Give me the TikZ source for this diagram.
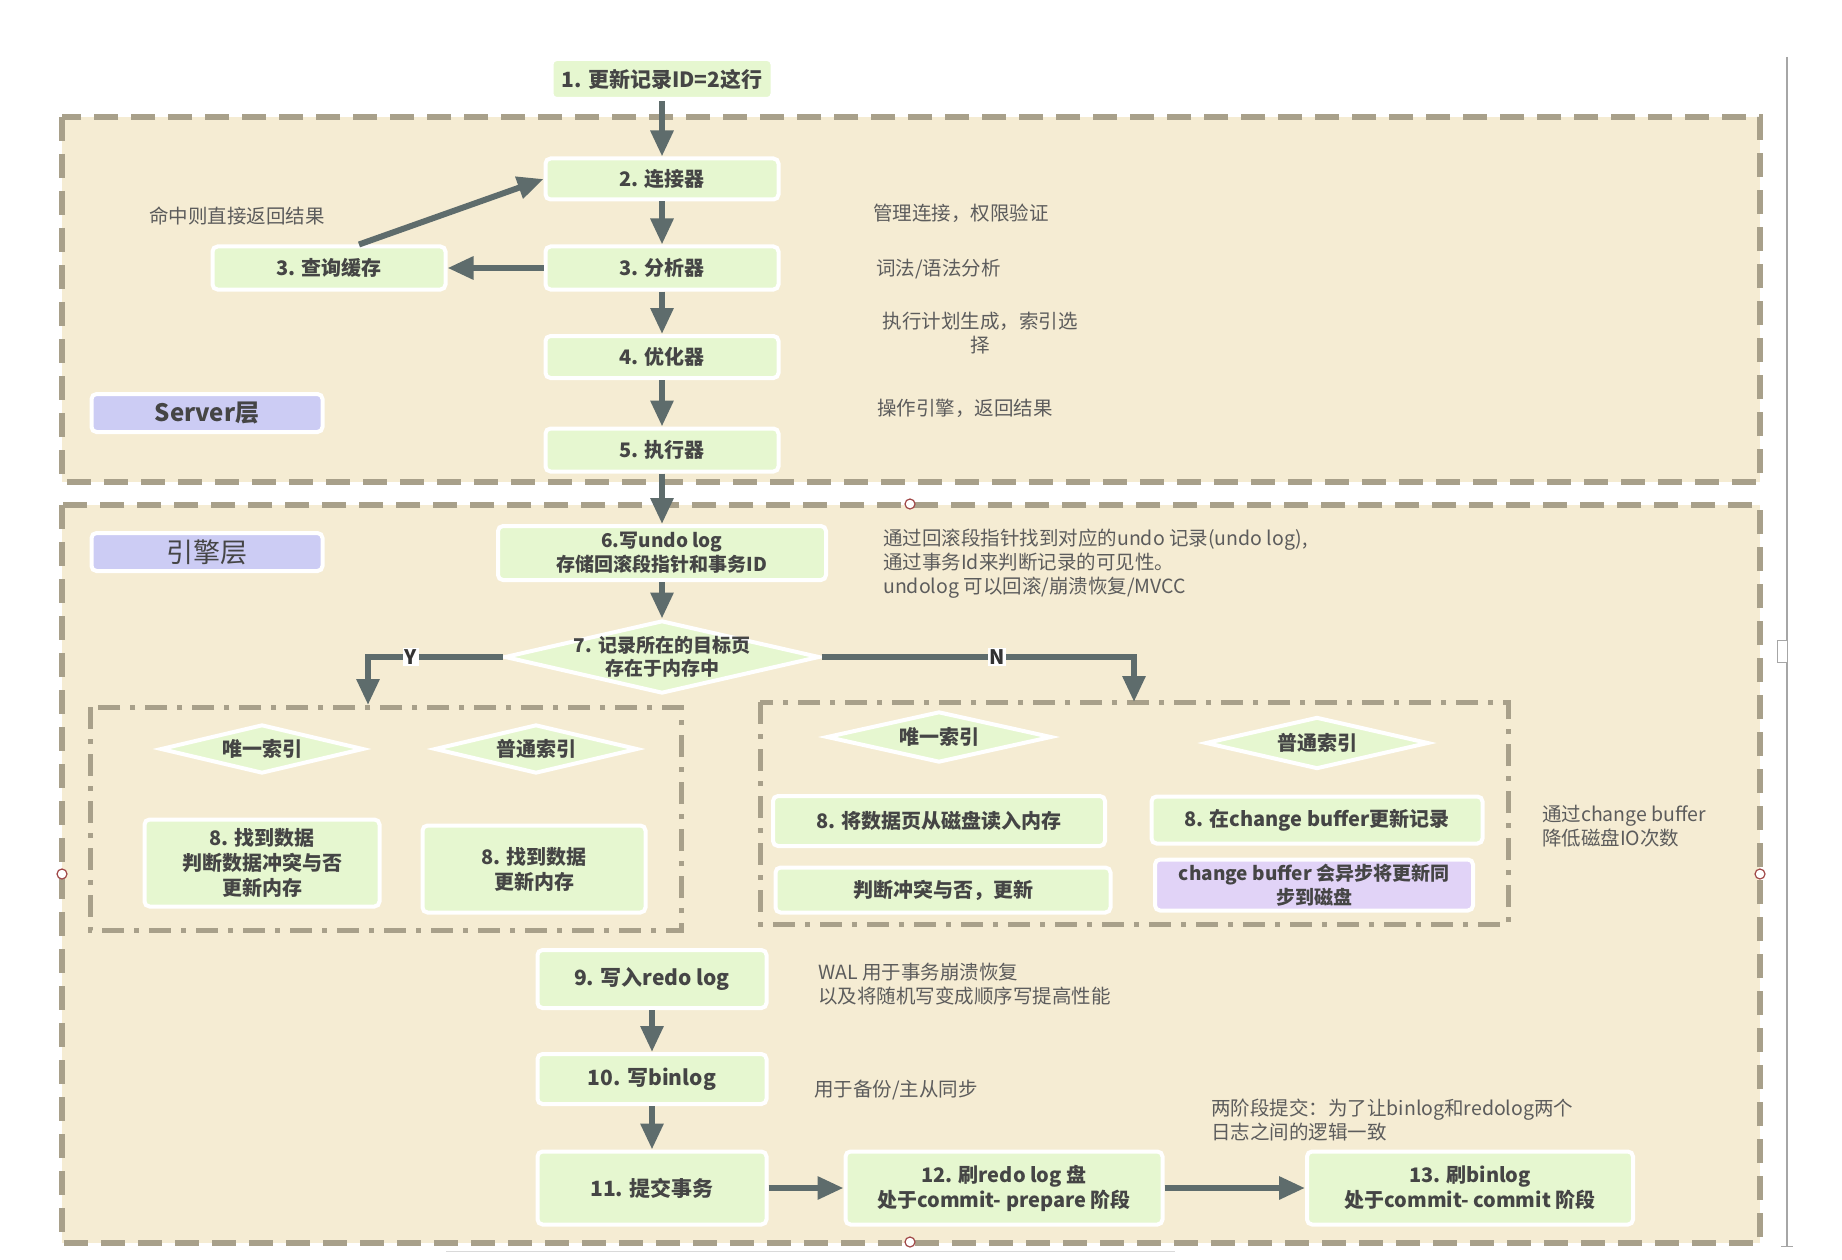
\documentclass[tikz,border=0pt]{standalone}
\usepackage{fontspec}
\setmainfont{Noto Sans CJK SC}
\usetikzlibrary{arrows.meta,shapes.geometric,calc}
\definecolor{bgbeige}{HTML}{F5ECD3}
\definecolor{dashc}{HTML}{A8A08A}
\definecolor{boxg}{HTML}{E6F7D0}
\definecolor{txtc}{HTML}{454545}
\definecolor{notec}{HTML}{5C5C5C}
\definecolor{arrc}{HTML}{5E6C6C}
\definecolor{layerc}{HTML}{CCCCF4}
\definecolor{purpc}{HTML}{E1D3F7}
\definecolor{handc}{HTML}{A04848}
\newcommand\myboxfont{\fontsize{20}{25}\selectfont\bfseries}
\newcommand\mysmallbox{\fontsize{19}{23.5}\selectfont\bfseries}
\newcommand\mybigbox{\fontsize{21}{25}\selectfont\bfseries}
\newcommand\mynotefont{\fontsize{19.5}{24}\selectfont}
\tikzset{
  box/.style={rectangle, rounded corners=5pt, draw=white, line width=4pt, fill=boxg, text=txtc, font=\myboxfont, align=center, inner sep=0pt},
  dia/.style={diamond, draw=white, line width=4pt, fill=boxg, inner sep=0pt},
  diatext/.style={text=txtc, font=\myboxfont, align=center, inner sep=0pt},
  note/.style={text=notec, font=\mynotefont, align=left, anchor=west, inner sep=0pt},
  layer/.style={rectangle, rounded corners=5pt, draw=white, line width=4pt, fill=layerc, text=txtc, minimum width=231pt, minimum height=38pt, inner sep=0pt},
  arr/.style={draw=arrc, line width=6pt, -{Triangle[length=26pt,width=22pt]}},
  outerbox/.style={draw=dashc, fill=bgbeige, line width=6pt, dash pattern=on 24pt off 13pt},
  innerbox/.style={draw=dashc, line width=5pt, dash pattern=on 22pt off 10pt on 5pt off 10pt},
  yn/.style={fill=white, text=black!80, font=\fontsize{20}{20}\selectfont\bfseries, inner sep=1.5pt},
  handle/.style={circle, draw=handc, fill=white, line width=1.2pt, minimum size=10pt, inner sep=0pt},
}
\begin{document}
\begin{tikzpicture}[x=1pt,y=-1pt]
\useasboundingbox (0,0) rectangle (1842,1260);
\fill[white] (0,0) rectangle (1842,1260);

% layer frames
\draw[outerbox] (62,117) rectangle (1760,482);
\draw[outerbox] (62,505) rectangle (1760,1243);
\draw[innerbox] (90,707) rectangle (681,930);
\draw[innerbox] (760,702) rectangle (1508,924);

% server layer
\node[box, font=\mybigbox, minimum width=221pt, minimum height=40pt] (n1) at (662,79) {1. 更新记录ID=2这行};
\node[box, minimum width=233pt, minimum height=41pt] (conn) at (662,179) {2. 连接器};
\node[box, minimum width=233pt, minimum height=43pt] (ana) at (662,268) {3. 分析器};
\node[box, minimum width=233pt, minimum height=43pt] (cache) at (329,268) {3. 查询缓存};
\node[box, minimum width=233pt, minimum height=42pt] (opt) at (662,357) {4. 优化器};
\node[box, minimum width=233pt, minimum height=43pt] (exe) at (662,450) {5. 执行器};
\node[layer, font=\fontsize{24}{24}\selectfont\bfseries] (srv) at (207,413) {Server层};

\node[note] (nt0) at (149,216) {命中则直接返回结果};
\node[note] (nt1) at (873,213) {管理连接，权限验证};
\node[note] (nt2) at (876,269) {词法/语法分析};
\node[note, align=center, anchor=center] (nt3) at (980,333) {执行计划生成，索引选\\择};
\node[note] (nt4) at (877,408) {操作引擎，返回结果};

% engine layer
\node[layer, font=\fontsize{27}{27}\selectfont] (eng) at (207,552) {引擎层};
\node[box, font=\mysmallbox, minimum width=328pt, minimum height=54pt] (b6) at (662,553) {6.写undo log\\存储回滚段指针和事务ID};
\node[note] (nt6) at (883,564) {通过回滚段指针找到对应的undo 记录(undo log),\\通过事务Id来判断记录的可见性。\\undolog 可以回滚/崩溃恢复/MVCC};

\node[dia, minimum width=315pt, minimum height=73pt] (d7) at (662,657) {};
\node[diatext, font=\mysmallbox] (d7t) at (d7) {7. 记录所在的目标页\\存在于内存中};

% left group
\node[dia, minimum width=203pt, minimum height=49pt] (dul) at (262,749) {};
\node[diatext] (dult) at (dul) {唯一索引};
\node[dia, minimum width=203pt, minimum height=49pt] (dnl) at (536,749) {};
\node[diatext] (dnlt) at (dnl) {普通索引};
\node[box, minimum width=235pt, minimum height=87pt] (b8a) at (262,863) {8. 找到数据\\判断数据冲突与否\\更新内存};
\node[box, minimum width=223pt, minimum height=87pt] (b8b) at (534,869) {8. 找到数据\\更新内存};

% right group
\node[dia, minimum width=225pt, minimum height=51pt] (dur) at (939,737) {};
\node[diatext] (durt) at (dur) {唯一索引};
\node[dia, minimum width=223pt, minimum height=52pt] (dnr) at (1317,743) {};
\node[diatext] (dnrt) at (dnr) {普通索引};
\node[box, minimum width=332pt, minimum height=50pt] (b8c) at (939,821) {8. 将数据页从磁盘读入内存};
\node[box, minimum width=335pt, minimum height=45pt] (b8d) at (943,890) {判断冲突与否，更新};
\node[box, minimum width=331pt, minimum height=47pt] (b8e) at (1317,820) {8. 在change buffer更新记录};
\node[box, fill=purpc, font=\mysmallbox, minimum width=318pt, minimum height=51pt] (b8f) at (1314,885) {change buffer 会异步将更新同\\步到磁盘};
\node[note] (nt8) at (1542,826) {通过change buffer\\降低磁盘IO次数};

% lower chain
\node[box, font=\mybigbox, minimum width=229pt, minimum height=58pt] (b9) at (652,979) {9. 写入redo log};
\node[note] (nt9) at (818,984) {WAL 用于事务崩溃恢复\\以及将随机写变成顺序写提高性能};
\node[box, font=\mybigbox, minimum width=229pt, minimum height=50pt] (b10) at (652,1079) {10. 写binlog};
\node[note] (nt10) at (814,1090) {用于备份/主从同步};
\node[box, font=\mybigbox, minimum width=229pt, minimum height=73pt] (b11) at (652,1188) {11. 提交事务};
\node[box, minimum width=317pt, minimum height=73pt] (b12) at (1004,1188) {12. 刷redo log 盘\\处于commit- prepare 阶段};
\node[box, minimum width=326pt, minimum height=73pt] (b13) at (1470,1188) {13. 刷binlog\\处于commit- commit 阶段};
\node[note] (nt11) at (1211,1120) {两阶段提交：为了让binlog和redolog两个\\日志之间的逻辑一致};

% connectors
\draw[arr] (n1) -- (conn);
\draw[arr] (conn) -- (ana);
\draw[arr] (ana) -- (opt);
\draw[arr] (opt) -- (exe);
\draw[arr] (ana.west) -- (cache.east);
\draw[arr] ([xshift=30pt]cache.north) -- (conn.west);
\draw[arr] (exe.south) -- (b6.north);
\draw[arr] (b6.south) -- (d7.north);
\coordinate (ytip) at (368,705);
\coordinate (ntip) at (1134,702);
\draw[arr] (d7.west) -- (d7.west -| ytip) -- (ytip);
\draw[arr] (d7.east) -- (d7.east -| ntip) -- (ntip);
\node[yn] (ylab) at (411,657) {Y};
\node[yn] (nlab) at (997,657) {N};
\draw[arr] (b9) -- (b10);
\draw[arr] (b10) -- (b11);
\draw[arr] (b11) -- (b12);
\draw[arr] (b12) -- (b13);

% editor artefacts
\node[handle] (h1) at (910,504) {};
\node[handle] (h2) at (62,874) {};
\node[handle] (h3) at (1760,874) {};
\node[handle] (h4) at (910,1242) {};
\draw[gray!70, line width=1.5pt] (1787,57) -- (1787,1246);
\draw[gray!70, line width=1pt] (1781,1246) -- (1793,1246);
\draw[gray!70, line width=1pt, fill=white] (1777,640) rectangle (1787,662);
\draw[gray!30, line width=1pt] (446,1251) -- (1175,1251);
\end{tikzpicture}
\end{document}
